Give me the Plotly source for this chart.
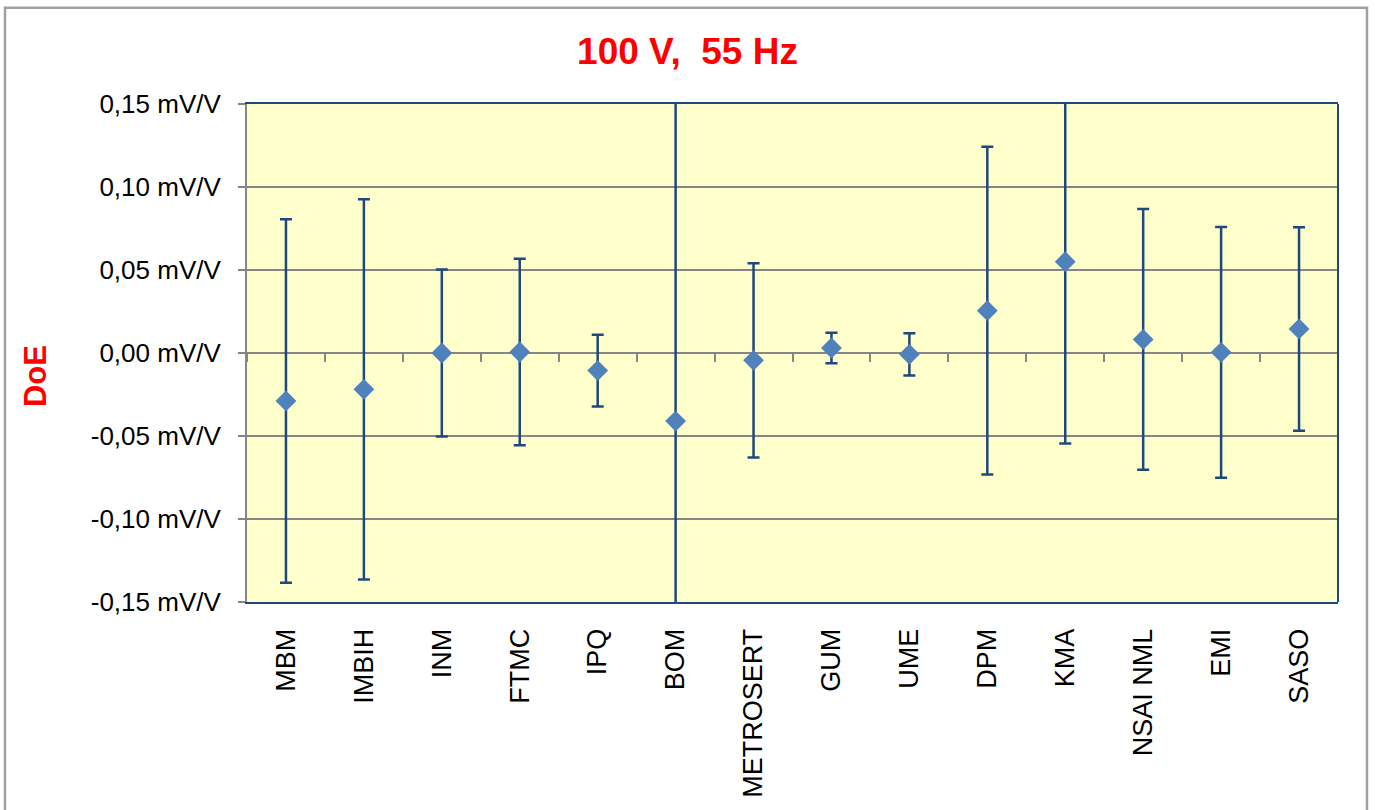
import plotly.graph_objects as go

categories = ["MBM", "IMBIH", "INM", "FTMC", "IPQ", "BOM", "METROSERT", "GUM",
              "UME", "DPM", "KMA", "NSAI NML", "EMI", "SASO"]
doe = [-0.0289, -0.0219, 0.0000, 0.0006, -0.0106, -0.0410, -0.0044, 0.0030,
       -0.0008, 0.0255, 0.0550, 0.0082, 0.0004, 0.0145]
unc = [0.1095, 0.1145, 0.0503, 0.0562, 0.0216, 0.2000, 0.0585, 0.0092,
       0.0127, 0.0987, 0.1095, 0.0785, 0.0755, 0.0613]
y_tickvals = [-0.15, -0.10, -0.05, 0.00, 0.05, 0.10, 0.15]
y_ticktext = ["-0,15 mV/V", "-0,10 mV/V", "-0,05 mV/V", "0,00 mV/V",
              "0,05 mV/V", "0,10 mV/V", "0,15 mV/V"]
title_text = "100 V,\u00a0 55 Hz"
y_title = "DoE"

W, H = 1375, 810
L, R, T, B = 247, 1338, 104, 605.5
NAVY = "#1F497D"
GRID = "#868686"
FONT = "Arial, Liberation Sans, sans-serif"

def px_x(p):
    return (p - L) / (R - L)

def px_y(p):
    return (B - p) / (B - T)

fig = go.Figure()
fig.add_trace(go.Scatter(
    x=categories, y=doe, mode="markers",
    marker=dict(symbol="diamond", size=16, color="#4F81BD"),
    error_y=dict(type="data", array=unc, visible=True, color=NAVY,
                 thickness=2.5, width=6),
    showlegend=False, hoverinfo="x+y",
))
# invisible trace to register categories on the zero-crossing tick axis
fig.add_trace(go.Scatter(
    x=categories, y=doe, mode="markers", xaxis="x2",
    marker=dict(opacity=0), showlegend=False, hoverinfo="skip",
))

fig.update_layout(
    width=W, height=H,
    margin=dict(l=L, r=W - R, t=T, b=H - B, pad=0),
    paper_bgcolor="white",
    plot_bgcolor="#FFFFCC",
    font=dict(family=FONT, color="black"),
    title=dict(text=title_text, x=0.5, xref="container", xanchor="center",
               y=1 - 51 / H, yref="container", yanchor="middle",
               font=dict(family=FONT, size=37, color="#FF0000", weight="bold")),
    xaxis=dict(type="category", categoryorder="array", categoryarray=categories,
               range=[-0.5, len(categories) - 0.5],
               showline=True, linecolor=NAVY, linewidth=2, mirror=True,
               ticks="", showgrid=False, zeroline=False,
               tickangle=-90, tickfont=dict(family=FONT, size=27, color="black"),
               ticklabelstandoff=14),
    xaxis2=dict(type="category", categoryorder="array", categoryarray=categories,
                range=[-0.5, len(categories) - 0.5],
                overlaying="x", anchor="free", position=0.5,
                tickson="boundaries", ticks="outside", ticklen=8,
                tickcolor=GRID, tickwidth=1.5,
                showticklabels=False, showline=False, showgrid=False,
                zeroline=False),
    yaxis=dict(range=[-0.15, 0.15], tickvals=y_tickvals, ticktext=y_ticktext,
               showgrid=True, gridcolor=GRID, gridwidth=1.5, zeroline=False,
               showline=True, linecolor=GRID, linewidth=2,
               ticks="outside", ticklen=7, tickcolor=GRID, tickwidth=1.5,
               tickfont=dict(family=FONT, size=26, color="black"),
               ticklabelstandoff=12),
    annotations=[dict(text=y_title, xref="paper", yref="paper",
                      x=px_x(35), y=px_y(378), xanchor="center", yanchor="middle",
                      showarrow=False, textangle=-90,
                      font=dict(family=FONT, size=31, color="#FF0000", weight="bold"))],
    shapes=[
        dict(type="line", xref="paper", yref="paper", x0=1, x1=1, y0=0, y1=1,
             line=dict(color=NAVY, width=2), layer="above"),
        dict(type="rect", xref="paper", yref="paper",
             x0=px_x(5), x1=px_x(1367), y0=px_y(830), y1=px_y(7),
             line=dict(color="#A0A0A0", width=2.5), fillcolor="rgba(0,0,0,0)",
             layer="below"),
    ],
)

fig.write_html("out.html")
